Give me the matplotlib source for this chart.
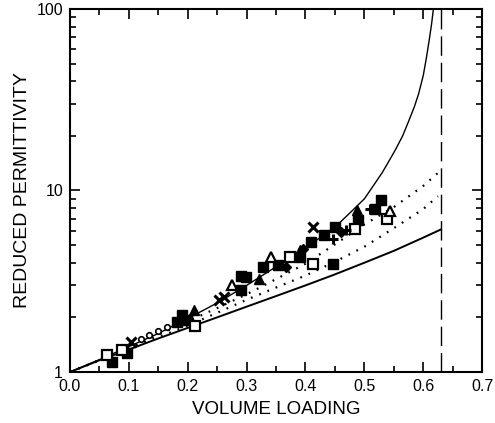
import matplotlib
matplotlib.use("Agg")
import matplotlib.pyplot as plt
from matplotlib.ticker import MultipleLocator, LogLocator, NullFormatter, FixedLocator

plt.rcParams['font.family'] = ['Liberation Sans', 'DejaVu Sans']

# theory curves
upper_x = [0.0, 0.05, 0.1, 0.15, 0.2, 0.25, 0.3, 0.35, 0.4, 0.455, 0.475, 0.5, 0.515, 0.53, 0.54,
           0.552, 0.565, 0.575, 0.585, 0.592, 0.6, 0.605, 0.61, 0.614, 0.618]
upper_y = [1.0, 1.17, 1.38, 1.63, 1.97, 2.4, 3.0, 3.8, 4.8, 6.5, 7.5, 9.0, 10.6, 12.5, 14.2,
           16.6, 20, 24, 29, 34, 43, 53, 67, 82, 105]

lower_x = [0.0, 0.05, 0.1, 0.15, 0.2, 0.25, 0.3, 0.35, 0.4, 0.45, 0.5, 0.55, 0.6, 0.63]
lower_y = [1.0, 1.16, 1.33, 1.53, 1.75, 2.0, 2.29, 2.62, 3.0, 3.45, 4.0, 4.65, 5.5, 6.1]

dot1_x = [0.0, 0.1, 0.2, 0.25, 0.3, 0.35, 0.4, 0.45, 0.5, 0.55, 0.6, 0.625]
dot1_y = [1.0, 1.35, 1.9, 2.25, 2.68, 3.25, 3.95, 5.05, 6.5, 8.1, 10.6, 12.5]

dot2_x = [0.0, 0.1, 0.2, 0.25, 0.3, 0.35, 0.4, 0.45, 0.5, 0.55, 0.6, 0.625]
dot2_y = [1.0, 1.34, 1.8, 2.12, 2.5, 2.92, 3.4, 4.05, 4.9, 6.2, 7.9, 9.3]

limit_x = 0.63

# measured points
fsq_x = [0.071, 0.097, 0.182, 0.19, 0.199, 0.29, 0.299, 0.29, 0.327, 0.353, 0.39, 0.41, 0.432, 0.447, 0.45, 0.49, 0.518, 0.529]
fsq_y = [1.14, 1.27, 1.89, 2.06, 1.93, 3.37, 3.34, 2.82, 3.79, 3.87, 4.30, 5.20, 5.66, 3.96, 6.27, 6.84, 7.93, 8.82]

osq_x = [0.063, 0.088, 0.213, 0.373, 0.413, 0.484, 0.538]
osq_y = [1.24, 1.33, 1.79, 4.30, 3.96, 6.15, 6.98]

ftri_x = [0.21, 0.321, 0.39, 0.487]
ftri_y = [2.19, 3.27, 4.68, 7.77]

otri_x = [0.276, 0.341, 0.543]
otri_y = [3.0, 4.30, 7.69]

cross_x = [0.104, 0.253, 0.262, 0.413]
cross_y = [1.47, 2.49, 2.59, 6.27]

plus_x = [0.447, 0.469, 0.51]
plus_y = [5.42, 6.03, 7.9]

circ_x = [0.12, 0.135, 0.15, 0.165]
circ_y = [1.52, 1.6, 1.69, 1.78]

dia_x = [0.367, 0.396, 0.46]
dia_y = [3.79, 4.78, 5.9]

fig = plt.figure(figsize=(4.95, 4.23), dpi=100)
ax = fig.add_axes([0.1414, 0.1206, 0.8326, 0.8581])

ax.plot(upper_x, upper_y, color='black', lw=1.0)
ax.plot(lower_x, lower_y, color='black', lw=1.4)
ax.plot(dot1_x, dot1_y, color='black', lw=1.6, linestyle=(0, (0.8, 3.2)))
ax.plot(dot2_x, dot2_y, color='black', lw=1.6, linestyle=(0, (0.8, 3.2)))
ax.axvline(limit_x, color='black', lw=1.0, linestyle=(0, (14, 5)))

ms = 6.5
ax.plot(fsq_x, fsq_y, 's', color='black', ms=ms)
ax.plot(osq_x, osq_y, 's', mfc='white', mec='black', mew=1.6, ms=ms)
ax.plot(ftri_x, ftri_y, '^', color='black', ms=ms + 1)
ax.plot(otri_x, otri_y, '^', mfc='white', mec='black', mew=1.6, ms=ms + 1)
ax.plot(cross_x, cross_y, 'x', color='black', mew=2.2, ms=ms)
ax.plot(plus_x, plus_y, '+', color='black', mew=2.2, ms=ms)
ax.plot(circ_x, circ_y, 'o', mfc='white', mec='black', mew=1.2, ms=4)
ax.plot(dia_x, dia_y, 'D', color='black', ms=ms - 1)

ax.set_xlim(0, 0.7)
ax.set_yscale('log')
ax.set_ylim(1, 100)

ax.xaxis.set_major_locator(MultipleLocator(0.1))
ax.xaxis.set_minor_locator(MultipleLocator(0.05))
ax.set_xticklabels([f"{v:.1f}" for v in ax.get_xticks()])
ax.yaxis.set_major_locator(FixedLocator([1, 10, 100]))
ax.set_yticklabels(['1', '10', '100'])
ax.yaxis.set_minor_locator(LogLocator(base=10, subs=range(2, 10)))
ax.yaxis.set_minor_formatter(NullFormatter())

ax.tick_params(which='both', direction='in', top=True, right=True, labelsize=11.5, width=1.2)
ax.tick_params(which='major', length=7, pad=5)
ax.tick_params(which='minor', length=4)
for sp in ax.spines.values():
    sp.set_linewidth(1.5)

ax.set_xlabel('VOLUME LOADING', fontsize=13.5, labelpad=5)
ax.set_ylabel('REDUCED PERMITTIVITY', fontsize=14)
ax.yaxis.set_label_coords(-0.095, 0.5)

fig.savefig('out.png', dpi=100)
